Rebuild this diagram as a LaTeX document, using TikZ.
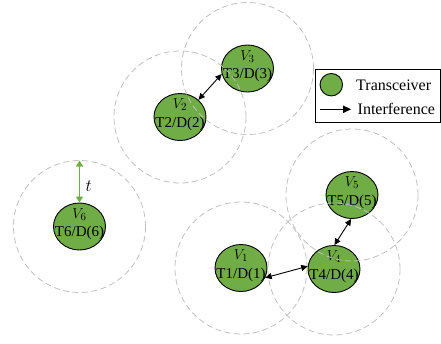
\documentclass[tikz,border=0pt]{standalone}
\usepackage{fontspec}
\setmainfont{Liberation Serif}
\usetikzlibrary{arrows.meta,shapes.geometric}
\definecolor{nodegreen}{HTML}{70AD47}
\definecolor{rangegray}{HTML}{C0C0C0}
\begin{document}
\begin{tikzpicture}[x=1pt,y=-1pt,
  tnode/.style={ellipse, draw=black, line width=0.9pt, fill=nodegreen,
    minimum width=52pt, minimum height=47pt, inner sep=0pt},
  vlab/.style={anchor=base, inner sep=0pt, yshift=8.5pt, font=\fontsize{15}{18}\selectfont},
  tlabel/.style={anchor=base, inner sep=0pt, yshift=-10pt, font=\fontsize{15}{18}\selectfont},
  rangecirc/.style={draw=rangegray, line width=0.8pt, dash pattern=on 6pt off 3.5pt},
  interf/.style={line width=0.9pt, {Triangle[length=6.5pt,width=6pt]}-{Triangle[length=6.5pt,width=6pt]}},
  tarrow/.style={draw=nodegreen, line width=1.6pt, {Triangle[length=6pt,width=7pt]}-{Triangle[length=6pt,width=7pt]}},
  legtext/.style={anchor=west, inner sep=0pt, font=\fontsize{16}{18}\selectfont}
]
\useasboundingbox (0,0) rectangle (441,343);
% nodes
\node[tnode] (V1) at (241,268) {};
\node[tnode] (V2) at (180,117) {};
\node[tnode] (V3) at (247.5,68.5) {};
\node[tnode] (V4) at (334,269) {};
\node[tnode] (V5) at (352,195) {};
\node[tnode] (V6) at (79.5,226.5) {};
\foreach \i in {1,...,6}{
  \node[vlab] (V\i a) at (V\i.center) {$V_{\i}$};
  \node[tlabel] (V\i b) at (V\i.center) {T\i/D(\i)};
}
% ranges
\foreach \n in {V1,V2,V3,V4,V5,V6}
  \draw[rangecirc] (\n.center) circle (66pt);
% interference
\draw[interf] (V2.43) -- (V3.192);
\draw[interf] (V1.-22) -- (V4.174);
\draw[interf] (V4.89) -- (V5.268);
% range t
\coordinate (V6top) at (79.5,160.5);
\draw[tarrow] (V6.north) -- (V6top);
\node[font=\fontsize{17}{18}\selectfont, anchor=west, inner sep=0pt] (tlab) at (85.5,186) {$t$};
% legend
\node[draw=black, line width=0.9pt, minimum width=125pt, minimum height=52.5pt, inner sep=0pt, anchor=north west] (legend) at (315,69.3) {};
\node[circle, draw=black, line width=0.9pt, fill=nodegreen, minimum size=22.5pt, inner sep=0pt] (legc) at (331.3,84.7) {};
\coordinate (lega) at (320,109.3);
\coordinate (legb) at (351,109.3);
\draw[line width=0.9pt, -{Triangle[length=8pt,width=7.5pt]}] (lega) -- (legb);
\node[legtext] (legt1) at (356,85) {Transceiver};
\node[legtext] (legt2) at (357.5,109) {Interference};
\end{tikzpicture}
\end{document}
